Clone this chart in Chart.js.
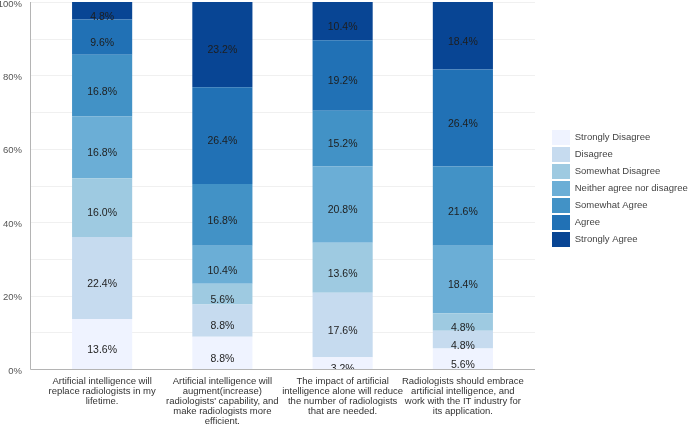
<!DOCTYPE html>
<html>
<head>
<meta charset="utf-8">
<title>AI and radiologists survey</title>
<script src="https://cdn.jsdelivr.net/npm/chart.js@4.4.1/dist/chart.umd.min.js"></script>
<style>
  html, body { margin: 0; padding: 0; background: #fff; }
  #wrap { width: 689px; height: 425px; position: relative; }
</style>
</head>
<body>
<div id="wrap"><canvas id="likert-chart"></canvas></div>
<script>
(function() {
    'use strict';

    // Survey statements (x axis), wrapped into lines
    var categories = [
        ['Artificial intelligence will', 'replace radiologists in my', 'lifetime.'],
        ['Artificial intelligence will', 'augment(increase)', "radiologists' capability, and", 'make radiologists more', 'efficient.'],
        ['The impact of artificial', 'intelligence alone will reduce', 'the number of radiologists', 'that are needed.'],
        ['Radiologists should embrace', 'artificial intelligence, and', 'work with the IT industry for', 'its application.']
    ];

    // Percent of responses per answer, one value per statement
    var stronglyDisagree = [13.6, 8.8, 3.2, 5.6];
    var disagree         = [22.4, 8.8, 17.6, 4.8];
    var somewhatDisagree = [16.0, 5.6, 13.6, 4.8];
    var neither          = [16.8, 10.4, 20.8, 18.4];
    var somewhatAgree    = [16.8, 16.8, 15.2, 21.6];
    var agree            = [9.6, 26.4, 19.2, 26.4];
    var stronglyAgree    = [4.8, 23.2, 10.4, 18.4];

    var yTicks = [0, 20, 40, 60, 80, 100];

    var seriesNames = ['Strongly Disagree', 'Disagree', 'Somewhat Disagree',
        'Neither agree nor disagree', 'Somewhat Agree', 'Agree', 'Strongly Agree'];
    var seriesValues = [stronglyDisagree, disagree, somewhatDisagree, neither,
        somewhatAgree, agree, stronglyAgree];
    var colors = ['#eff3ff', '#c6dbef', '#9ecae1', '#6baed6', '#4292c6', '#2171b5', '#084594'];

    var FONT = '"Liberation Sans", Arial, Helvetica, sans-serif';

    // grid + axis lines drawn a bit wider than the bar area
    var axisPlugin = {
        id: 'axisLines',
        beforeDatasetsDraw: function(chart) {
            var ctx = chart.ctx, area = chart.chartArea, y = chart.scales.y;
            var x0 = area.left - 12, x1 = area.right + 12;
            ctx.save();
            ctx.lineWidth = 1;
            ctx.strokeStyle = '#f0f0f0';
            for (var v = 10; v <= 100; v += 10) {
                var py = Math.round(y.getPixelForValue(v)) + 0.5;
                ctx.beginPath(); ctx.moveTo(x0, py); ctx.lineTo(x1, py); ctx.stroke();
            }
            ctx.strokeStyle = '#b4b4b4';
            var by = Math.round(y.getPixelForValue(0)) + 0.5;
            var ty = y.getPixelForValue(100);
            ctx.beginPath(); ctx.moveTo(x0 + 0.5, ty); ctx.lineTo(x0 + 0.5, by); ctx.lineTo(x1, by); ctx.stroke();
            ctx.restore();
        }
    };

    // percentage labels inside each segment
    var valueLabels = {
        id: 'valueLabels',
        afterDatasetsDraw: function(chart) {
            var ctx = chart.ctx, area = chart.chartArea;
            ctx.save();
            ctx.beginPath();
            ctx.rect(area.left, area.top - 2, area.right - area.left, area.bottom - area.top + 2);
            ctx.clip();
            ctx.font = '10.5px ' + FONT;
            ctx.fillStyle = '#1e1e1e';
            ctx.textAlign = 'center';
            ctx.textBaseline = 'middle';
            chart.data.datasets.forEach(function(ds, i) {
                chart.getDatasetMeta(i).data.forEach(function(bar, j) {
                    var mid = (bar.y + bar.base) / 2 + 6;
                    ctx.fillText(ds.data[j].toFixed(1) + '%', bar.x, mid);
                });
            });
            ctx.restore();
        }
    };

    // push the legend away from the plot and down to the middle
    var legendPlace = {
        id: 'legendPlace',
        beforeLayout: function(chart) {
            var lg = chart.legend;
            if (lg && !lg._widened) {
                var fit = lg.fit.bind(lg);
                lg.fit = function() { fit(); this.width = 166; };
                lg._widened = true;
            }
        },
        afterLayout: function(chart) {
            var lg = chart.legend;
            if (lg) {
                lg.left = 550;
                lg.top = 128;
            }
        }
    };

    function initChart() {
        var ctx = document.getElementById('likert-chart');
        if (!ctx) return;

        var datasets = seriesNames.map(function(name, i) {
            return {
                label: name,
                data: seriesValues[i],
                backgroundColor: colors[i],
                borderWidth: 0,
                barPercentage: 0.5,
                categoryPercentage: 1.0
            };
        });

        new Chart(ctx, {
            type: 'bar',
            data: { labels: categories, datasets: datasets },
            plugins: [axisPlugin, valueLabels, legendPlace],
            options: {
                responsive: true,
                maintainAspectRatio: false,
                animation: false,
                layout: { padding: { top: 2, left: 0, right: 0, bottom: 0 } },
                plugins: {
                    tooltip: { enabled: false },
                    legend: {
                        position: 'right',
                        align: 'start',
                        labels: {
                            boxWidth: 18,
                            boxHeight: 15,
                            padding: 2,
                            color: '#444',
                            font: { family: FONT, size: 9.5 }
                        }
                    }
                },
                scales: {
                    x: {
                        stacked: true,
                        offset: true,
                        grid: { display: false, drawTicks: false },
                        border: { display: false },
                        ticks: {
                            color: '#333',
                            padding: 7,
                            maxRotation: 0,
                            autoSkip: false,
                            font: { family: FONT, size: 9.5, lineHeight: 1.05 }
                        },
                        afterFit: function(s) { s.height = 56; s.paddingLeft = 0; s.paddingRight = 0; }
                    },
                    y: {
                        stacked: true,
                        min: 0,
                        max: 100,
                        grid: { display: false, drawTicks: false },
                        border: { display: false },
                        afterBuildTicks: function(s) {
                            s.ticks = yTicks.map(function(v) { return { value: v }; });
                        },
                        ticks: {
                            color: '#555',
                            padding: 20,
                            labelOffset: 2,
                            font: { family: FONT, size: 9.5 },
                            callback: function(v) { return v + '%'; }
                        },
                        afterFit: function(s) { s.width = 42; s.paddingTop = 0; s.paddingBottom = 0; }
                    }
                }
            }
        });
    }

    if (document.readyState === 'loading') {
        document.addEventListener('DOMContentLoaded', initChart);
    } else {
        initChart();
    }
})();
</script>
</body>
</html>
